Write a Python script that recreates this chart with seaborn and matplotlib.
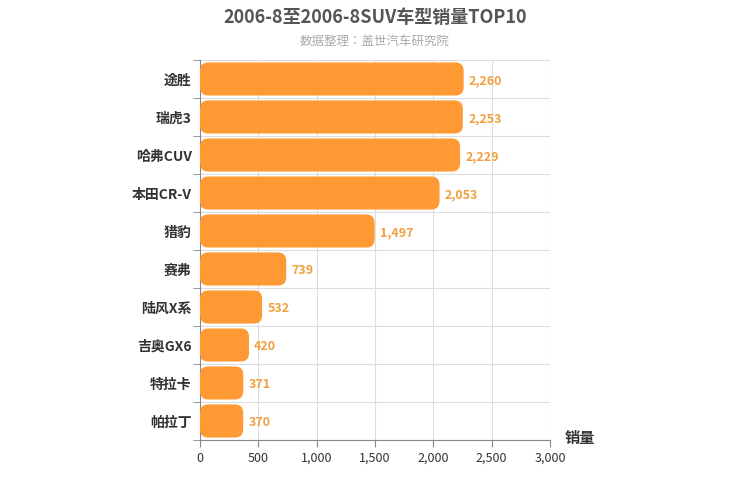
import matplotlib
matplotlib.use("Agg")
import matplotlib.pyplot as plt
import seaborn as sns
import pandas as pd
from matplotlib.patches import FancyBboxPatch

# ---- data ----
models = ["途胜", "瑞虎3", "哈弗CUV", "本田CR-V", "猎豹", "赛弗", "陆风X系", "吉奥GX6", "特拉卡", "帕拉丁"]
sales = [2260, 2253, 2229, 2053, 1497, 739, 532, 420, 371, 370]
xticks = [0, 500, 1000, 1500, 2000, 2500, 3000]

plt.rcParams["font.family"] = ["Noto Sans CJK JP", "Noto Sans CJK SC", "DejaVu Sans"]
df = pd.DataFrame({"model": models, "sales": sales})

fig = plt.figure(figsize=(7.5, 5), dpi=100)
ax = fig.add_axes([200 / 750, 60 / 500, 350 / 750, 380 / 500])

sns.barplot(data=df, x="sales", y="model", color="#ff9933", width=0.87, ax=ax)

# swap plain bars for rounded ones
orange = "#ff9933"
for p in list(ax.patches):
    x0, y0, w, h = p.get_x(), p.get_y(), p.get_width(), p.get_height()
    p.remove()
    ax.add_patch(FancyBboxPatch((x0, y0), w, h,
                                boxstyle="round,pad=0,rounding_size=70",
                                mutation_aspect=0.0031,
                                facecolor=orange, edgecolor="none", zorder=3))

for i, v in enumerate(sales):
    ax.text(v + 45, i + 0.05, f"{v:,}", va="center", ha="left", fontsize=9,
            color="#f0a040", fontweight="bold", zorder=4)

ax.set_xlim(0, 3000)
ax.set_ylim(len(models) - 0.5, -0.5)
ax.set_xticks(xticks)
ax.set_xticklabels([f"{t:,}" for t in xticks], fontsize=9, color="#333333")
ax.set_yticks(range(len(models)))
ax.set_yticklabels(models, fontsize=10, color="#333333", fontweight="bold")
ax.set_yticks([i - 0.5 for i in range(len(models) + 1)], minor=True)
ax.tick_params(axis="y", which="major", length=0, pad=6)
ax.tick_params(axis="y", which="minor", length=5, color="#888888")
ax.tick_params(axis="x", length=5, color="#888888")
ax.grid(axis="x", color="#dddddd", linewidth=0.8, zorder=0)
ax.grid(axis="y", which="minor", color="#dddddd", linewidth=0.8, zorder=0)
ax.grid(axis="y", which="major", visible=False)
ax.set_axisbelow(True)
ax.set_xlabel("")
ax.set_ylabel("")
for s in ["top", "right"]:
    ax.spines[s].set_visible(False)
for s in ["left", "bottom"]:
    ax.spines[s].set_color("#888888")

fig.text(0.5, 0.965, "2006-8至2006-8SUV车型销量TOP10", ha="center", va="center",
         fontsize=13, fontweight="bold", color="#555555")
fig.text(0.5, 0.918, "数据整理：盖世汽车研究院", ha="center", va="center",
         fontsize=9, color="#aaaaaa")
fig.text(580 / 750, 1 - 438 / 500, "销量", ha="center", va="center",
         fontsize=11, fontweight="bold", color="#333333")

fig.savefig("out.png", dpi=100)
